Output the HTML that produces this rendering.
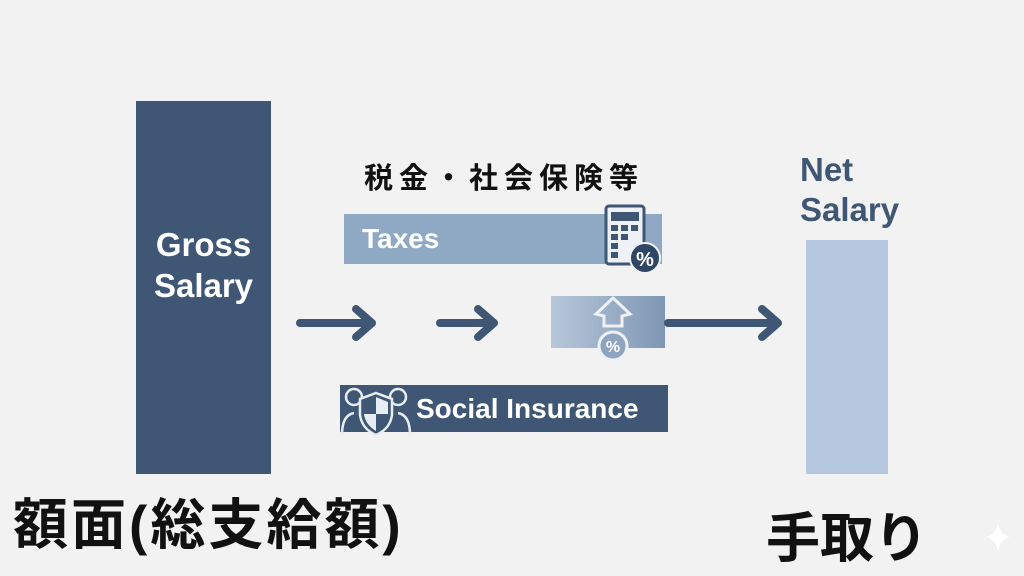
<!DOCTYPE html>
<html><head><meta charset="utf-8"><style>
body{margin:0;width:1024px;height:576px;background:#f2f2f2;position:relative;overflow:hidden;font-family:"Liberation Sans","Noto Sans CJK JP",sans-serif}
.a{position:absolute}
.t{font-weight:bold}
</style></head><body>
<div class="a" style="left:136px;top:101px;width:135px;height:373px;background:#3f5775"></div>
<div class="a t" style="left:136px;top:224px;width:135px;text-align:center;color:#fff;font-size:33px;line-height:41px">Gross<br>Salary</div>
<div class="a t" style="left:364px;top:155px;font-size:29px;letter-spacing:6px;color:#111">税金・社会保険等</div>
<div class="a" style="left:344px;top:214px;width:318px;height:50px;background:#8fa8c4"></div>
<div class="a t" style="left:362px;top:223px;font-size:28px;color:#fff">Taxes</div>
<svg class="a" style="left:600px;top:203px" width="66" height="72">
<rect x="6" y="3" width="38" height="58" rx="3" fill="#eef1f5" stroke="#3f5775" stroke-width="3"/>
<rect x="11" y="9" width="28" height="9" fill="#3f5775"/>
<g fill="#3f5775"><rect x="11" y="22" width="7" height="6"/><rect x="21" y="22" width="7" height="6"/><rect x="31" y="22" width="7" height="6"/><rect x="11" y="31" width="7" height="6"/><rect x="21" y="31" width="7" height="6"/><rect x="11" y="40" width="7" height="6"/><rect x="11" y="49" width="7" height="6"/></g>
<circle cx="45" cy="55" r="15" fill="#2f4664" stroke="#eef1f5" stroke-width="2"/>
<text x="45" y="63" text-anchor="middle" fill="#fff" font-size="20" font-weight="bold" font-family="Liberation Sans">%</text>
</svg>
<div class="a" style="left:551px;top:296px;width:114px;height:52px;background:linear-gradient(90deg,#b7c7da,#7f97b4)"></div>
<svg class="a" style="left:588px;top:294px" width="50" height="72">
<path d="M25 4 L42 20 L34 22 L34 32 L16 32 L16 22 L8 20 Z" fill="none" stroke="#eef1f5" stroke-width="3"/>
<circle cx="25" cy="52" r="14" fill="#8ea4bf" stroke="#eef1f5" stroke-width="3"/>
<text x="25" y="58" text-anchor="middle" fill="#fff" font-size="16" font-weight="bold" font-family="Liberation Sans">%</text>
</svg>
<div class="a" style="left:340px;top:385px;width:328px;height:47px;background:#3f5775"></div>
<svg class="a" style="left:340px;top:385px" width="72" height="52">
<g fill="none" stroke="#e8edf3" stroke-width="2.5">
<circle cx="14" cy="12" r="8"/><circle cx="58" cy="12" r="8"/>
<path d="M2 50 Q2 30 14 28 M70 50 Q70 30 58 28"/>
<path d="M36 8 L52 14 L52 30 Q50 44 36 50 Q22 44 20 30 L20 14 Z" fill="#3f5775"/>
</g>
<path d="M36 12 L48 17 L48 29 L36 29 Z" fill="#e8edf3"/><path d="M24 29 L36 29 L36 46 Q26 40 24 30Z" fill="#e8edf3"/>
</svg>
<div class="a t" style="left:416px;top:393px;font-size:28px;color:#fff">Social Insurance</div>
<svg class="a" style="left:0;top:0" width="1024" height="576">
<g stroke="#3f5775" stroke-width="8" stroke-linecap="round" stroke-linejoin="round" fill="none">
<path d="M300 323 H372 M356 309 L372 323 L356 337"/>
<path d="M440 323 H494 M478 309 L494 323 L478 337"/>
<path d="M668 323 H778 M762 309 L778 323 L762 337"/>
</g>
<path d="M998 522 Q1000 535 1010 537 Q1000 539 998 552 Q996 539 986 537 Q996 535 998 522Z" fill="#fff"/>
</svg>
<div class="a t" style="left:800px;top:150px;font-size:33px;color:#3f5775;line-height:40px">Net<br>Salary</div>
<div class="a" style="left:806px;top:240px;width:82px;height:234px;background:#b6c8e0"></div>
<div class="a t" style="left:13px;top:480px;font-size:55px;color:#111;letter-spacing:3px">額面(総支給額)</div>
<div class="a t" style="left:766px;top:494px;font-size:54px;color:#111">手取り</div>
</body></html>
